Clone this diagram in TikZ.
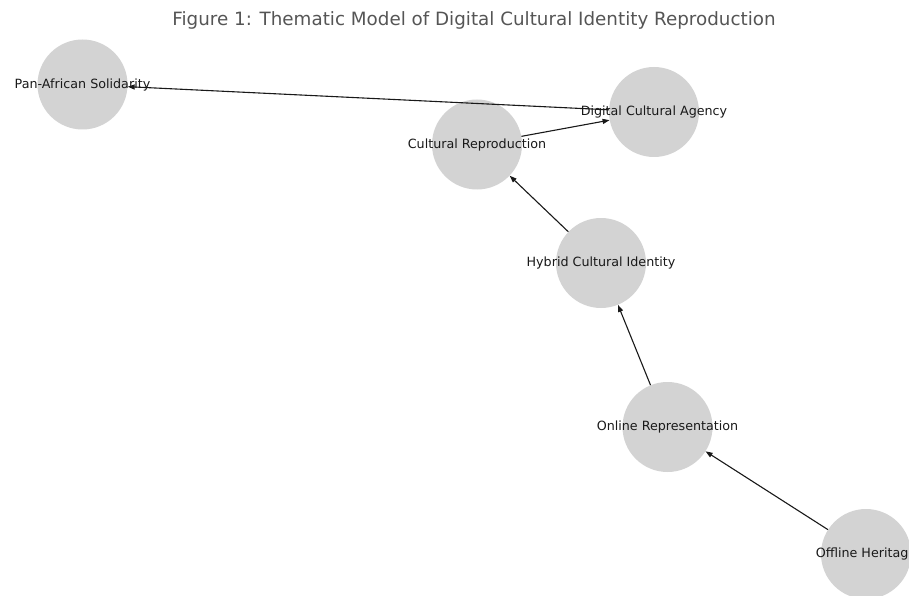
\documentclass[tikz,border=0pt]{standalone}
\usepackage{fontspec}
\setmainfont{DejaVu Sans}
\usetikzlibrary{arrows.meta}
\definecolor{nodegray}{HTML}{D3D3D3}
\definecolor{titlegray}{HTML}{555555}
\tikzset{
  circ/.style={circle, fill=nodegray, draw=none, minimum size=90pt, inner sep=0pt},
  lab/.style={font=\fontsize{12.7}{14}\selectfont, text=black!90, inner sep=0pt},
  edge/.style={draw=black!90, line width=1.1pt, -{Triangle[length=7pt,width=5pt]}},
  ttl/.style={font=\fontsize{18.3}{21}\selectfont, text=titlegray, inner sep=0pt}
}
\begin{document}
\begin{tikzpicture}[x=1pt,y=-1pt]
\useasboundingbox (0,0) rectangle (909,596);
\clip (0,0) rectangle (909,596);
\node[ttl] (title) at (474,20) {Figure 1: Thematic Model of Digital Cultural Identity Reproduction};
\node[circ] (pan) at (82.5,84.5) {};
\node[circ] (dca) at (654,112) {};
\node[circ] (cr) at (477,144.5) {};
\node[circ] (hci) at (601,263) {};
\node[circ] (onr) at (667.5,427) {};
\node[circ] (ofh) at (866,554) {};
\draw[edge] (ofh) -- (onr);
\draw[edge] (onr) -- (hci);
\draw[edge] (hci) -- (cr);
\draw[edge] (cr) -- (dca);
\draw[edge] (dca) -- (pan);
\node[lab] at (pan) {Pan-African Solidarity};
\node[lab] at (dca) {Digital Cultural Agency};
\node[lab] at (cr) {Cultural Reproduction};
\node[lab] at (hci) {Hybrid Cultural Identity};
\node[lab] at (onr) {Online Representation};
\node[lab] at (ofh) {Offline Heritage};
\end{tikzpicture}
\end{document}
